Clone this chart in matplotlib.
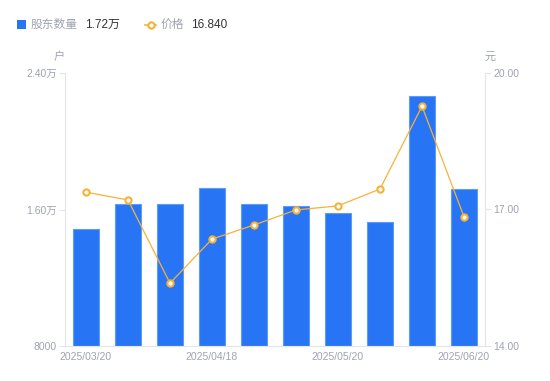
import matplotlib
matplotlib.use("Agg")
import matplotlib.pyplot as plt
from matplotlib.lines import Line2D
from matplotlib.patches import Rectangle

plt.rcParams['font.family'] = ['Liberation Sans', 'Noto Sans CJK SC', 'DejaVu Sans']

dates = ["2025/03/20", "2025/03/31", "2025/04/10", "2025/04/18", "2025/04/30",
         "2025/05/09", "2025/05/20", "2025/05/30", "2025/06/10", "2025/06/20"]
holders = [14860, 16320, 16300, 17260, 16320, 16200, 15800, 15270, 22650, 17200]
price = [17.38, 17.21, 15.38, 16.35, 16.66, 16.99, 17.08, 17.45, 19.27, 16.84]
left_ticks = [8000, 16000, 24000]
left_labels = ["8000", "1.60万", "2.40万"]
right_ticks = [14.0, 17.0, 20.0]
right_labels = ["14.00", "17.00", "20.00"]
shown_dates = ["2025/03/20", "2025/04/18", "2025/05/20", "2025/06/20"]

BLUE = "#2775F5"
ORANGE = "#F7B236"
GRAY = "#9EA3B0"
AXC = "#E3E5EA"
DARK = "#333333"

W, H = 550, 381
fig = plt.figure(figsize=(W / 100, H / 100), dpi=100)
L, R, T, B = 65, 485, 73, 346
ax = fig.add_axes([L / W, 1 - B / H, (R - L) / W, (B - T) / H])
ax2 = ax.twinx()

x = list(range(len(dates)))
ax.bar(x, [h - 8000 for h in holders], bottom=8000, width=0.6, color=BLUE,
       edgecolor="#5E9BF8", linewidth=0.8, zorder=2)
ax.set_xlim(-0.5, len(dates) - 0.5)
ax.set_ylim(8000, 24000)
ax.set_yticks(left_ticks)
ax.set_yticklabels(left_labels)

ax2.plot(x, price, color=ORANGE, linewidth=0.9, marker="o", markersize=4.5,
         markerfacecolor="white", markeredgecolor=ORANGE, markeredgewidth=1.5, zorder=3)
ax2.set_ylim(14, 20)
ax2.set_yticks(right_ticks)
ax2.set_yticklabels(right_labels)

tick_pos = [dates.index(d) for d in shown_dates]
ax.set_xticks(tick_pos)
ax.set_xticklabels(shown_dates)

for a in (ax, ax2):
    for s in a.spines.values():
        s.set_visible(False)
    a.tick_params(colors=GRAY, labelsize=7.5, length=4, width=0.8, color=AXC)
ax.spines['left'].set_visible(True)
ax.spines['left'].set_color(AXC)
ax.spines['bottom'].set_visible(True)
ax.spines['bottom'].set_color(AXC)
ax2.spines['right'].set_visible(True)
ax2.spines['right'].set_color(AXC)
ax.tick_params(axis='x', length=0, pad=4)
ax.tick_params(axis='y', pad=2)
ax2.tick_params(axis='y', pad=2)

# axis unit labels
fig.text(59 / W, 1 - 57 / H, "户", color=GRAY, fontsize=8, ha='center', va='center')
fig.text(490 / W, 1 - 57 / H, "元", color=GRAY, fontsize=8, ha='center', va='center')

# legend
fig.patches.append(Rectangle((17 / W, 1 - 29 / H), 9 / W, 9 / H, transform=fig.transFigure,
                             facecolor=BLUE, edgecolor='none'))
fig.text(31 / W, 1 - 24.5 / H, "股东数量", color=GRAY, fontsize=8.5, ha='left', va='center')
fig.text(85 / W, 1 - 24.5 / H, "1.72万", color=DARK, fontsize=8.5, ha='left', va='center')
fig.lines.append(Line2D([145 / W, 156 / W], [1 - 24.5 / H, 1 - 24.5 / H], transform=fig.transFigure,
                        color=ORANGE, linewidth=1.2, marker='o', markevery=[0], markersize=0))
fig.lines.append(Line2D([150.5 / W], [1 - 24.5 / H], transform=fig.transFigure,
                        color=ORANGE, marker='o', markersize=4.5, markerfacecolor='white',
                        markeredgecolor=ORANGE, markeredgewidth=1.5, linestyle='none'))
fig.text(161 / W, 1 - 24.5 / H, "价格", color=GRAY, fontsize=8.5, ha='left', va='center')
fig.text(191 / W, 1 - 24.5 / H, "16.840", color=DARK, fontsize=8.5, ha='left', va='center')

fig.savefig("out.png", dpi=100)
